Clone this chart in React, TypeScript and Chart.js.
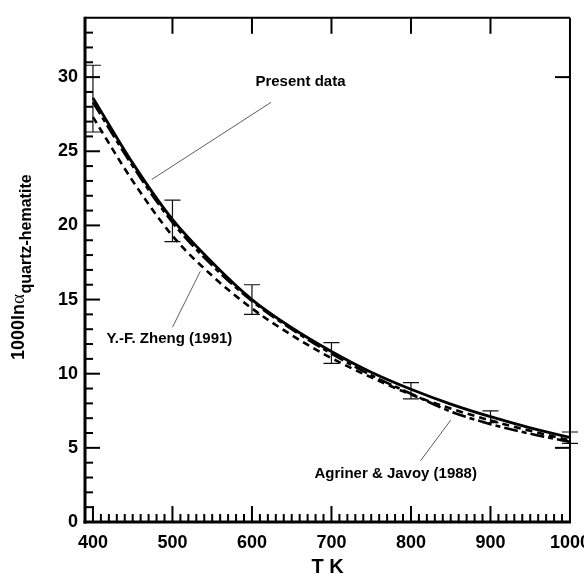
import React, { useEffect, useRef } from "react";
import { Chart, registerables } from "chart.js";

Chart.register(...registerables);

// ---- data ----
const temperatures = [400, 450, 500, 550, 600, 650, 700, 750, 800, 850, 900, 950, 1000];
const presentData = [28.6, 24.2, 20.4, 17.5, 15.0, 13.1, 11.5, 10.1, 8.95, 7.95, 7.1, 6.35, 5.7];
const zheng1991 = [27.3, 23.0, 19.3, 16.6, 14.4, 12.6, 11.05, 9.75, 8.6, 7.65, 6.85, 6.15, 5.5];
const agriner1988 = [28.3, 24.0, 20.2, 17.3, 14.9, 13.0, 11.35, 9.9, 8.65, 7.45, 6.6, 5.95, 5.4];

const errorT = [400, 500, 600, 700, 800, 900, 1000];
const errorLow = [26.3, 18.9, 14.0, 10.7, 8.3, 6.7, 5.3];
const errorHigh = [30.8, 21.7, 16.0, 12.1, 9.4, 7.5, 6.07];

const xTickLabels = [400, 500, 600, 700, 800, 900, 1000];
const yTickLabels = [0, 5, 10, 15, 20, 25, 30];
const topTickValues = [500, 600, 700, 800, 900];
const rightTickValues = [30, 5];

const seriesLabels = ["Present data", "Y.-F. Zheng (1991)", "Agriner & Javoy (1988)"];

const FONT = "'Liberation Sans', Arial, sans-serif";

const framePlugin = {
  id: "frame",
  afterDatasetsDraw(chart: any) {
    const { ctx, scales } = chart;
    const x = scales.x;
    const y = scales.y;
    ctx.save();
    ctx.strokeStyle = "#111";
    ctx.lineWidth = 1.2;
    errorT.forEach((t, i) => {
      const px = x.getPixelForValue(t);
      const p1 = y.getPixelForValue(errorLow[i]);
      const p2 = y.getPixelForValue(errorHigh[i]);
      ctx.beginPath();
      ctx.moveTo(px, p1);
      ctx.lineTo(px, p2);
      ctx.moveTo(px - 8, p1);
      ctx.lineTo(px + 8, p1);
      ctx.moveTo(px - 8, p2);
      ctx.lineTo(px + 8, p2);
      ctx.stroke();
    });
    ctx.restore();
  },
  afterDraw(chart: any) {
    const { ctx, chartArea, scales } = chart;
    const { left, right, top, bottom } = chartArea;
    const x = scales.x;
    const y = scales.y;
    const line = (x1: number, y1: number, x2: number, y2: number) => {
      ctx.beginPath();
      ctx.moveTo(x1, y1);
      ctx.lineTo(x2, y2);
      ctx.stroke();
    };
    ctx.save();
    ctx.strokeStyle = "#000";
    // frame
    ctx.lineWidth = 2;
    line(left, top, right, top);
    line(right, top, right, bottom);
    ctx.lineWidth = 3;
    line(left, top - 1, left, bottom + 1.5);
    line(left - 1.5, bottom, right + 1, bottom);

    // left ticks
    ctx.lineWidth = 2;
    for (let v = 0; v <= 33; v++) {
      const py = y.getPixelForValue(v);
      line(left, py, left + (v % 5 === 0 ? 15 : 8), py);
    }
    // bottom ticks
    for (let t = 400; t < 1000; t += 10) {
      const px = x.getPixelForValue(t);
      line(px, bottom, px, bottom - (t % 100 === 0 ? 16 : 8));
    }
    // top ticks
    topTickValues.forEach((t) => {
      const px = x.getPixelForValue(t);
      line(px, top, px, top + 16);
    });
    // right ticks
    rightTickValues.forEach((v) => {
      const py = y.getPixelForValue(v);
      line(right, py, right - 15, py);
    });

    // annotations
    ctx.fillStyle = "#000";
    ctx.font = `bold 15px ${FONT}`;
    ctx.textBaseline = "middle";
    ctx.lineWidth = 0.8;
    ctx.strokeStyle = "#333";

    ctx.textAlign = "center";
    ctx.fillText(seriesLabels[0], x.getPixelForValue(661), y.getPixelForValue(29.7));
    line(x.getPixelForValue(624), y.getPixelForValue(28.3), x.getPixelForValue(474), y.getPixelForValue(23.1));

    ctx.textAlign = "left";
    ctx.fillText(seriesLabels[1], x.getPixelForValue(417), y.getPixelForValue(12.33));
    line(x.getPixelForValue(500), y.getPixelForValue(13.13), x.getPixelForValue(535), y.getPixelForValue(16.9));

    ctx.textAlign = "right";
    ctx.fillText(seriesLabels[2], x.getPixelForValue(883), y.getPixelForValue(3.27));
    line(x.getPixelForValue(812), y.getPixelForValue(4.13), x.getPixelForValue(850), y.getPixelForValue(6.87));

    // x title
    ctx.textAlign = "center";
    ctx.font = `bold 20px ${FONT}`;
    ctx.fillText("T K", (left + right) / 2, 567);

    // y title (rotated, with subscript)
    ctx.translate(24, 360);
    ctx.rotate(-Math.PI / 2);
    ctx.textAlign = "left";
    ctx.textBaseline = "alphabetic";
    ctx.font = `bold 18px ${FONT}`;
    const main = "1000ln";
    ctx.fillText(main, 0, 0);
    let cx = ctx.measureText(main).width;
    ctx.font = `19px 'Liberation Serif', serif`;
    ctx.fillText("α", cx, 0);
    cx += ctx.measureText("α").width + 0.5;
    ctx.font = `bold 16px ${FONT}`;
    ctx.fillText("quartz-hematite", cx, 7);
    ctx.restore();
  },
};

export default function App() {
  const canvasRef = useRef<HTMLCanvasElement | null>(null);

  useEffect(() => {
    if (!canvasRef.current) return;
    const mk = (vals: number[]) => temperatures.map((t, i) => ({ x: t, y: vals[i] }));
    const chart = new Chart(canvasRef.current, {
      type: "line",
      data: {
        datasets: [
          {
            label: seriesLabels[2],
            data: mk(agriner1988),
            borderColor: "#000",
            borderWidth: 2.6,
            borderDash: [14, 4, 5, 4],
            pointRadius: 0,
            cubicInterpolationMode: "monotone",
            fill: false,
          },
          {
            label: seriesLabels[1],
            data: mk(zheng1991),
            borderColor: "#000",
            borderWidth: 2.6,
            borderDash: [7, 5],
            pointRadius: 0,
            cubicInterpolationMode: "monotone",
            fill: false,
          },
          {
            label: seriesLabels[0],
            data: mk(presentData),
            borderColor: "#000",
            borderWidth: 2.8,
            pointRadius: 0,
            cubicInterpolationMode: "monotone",
            fill: false,
          },
        ],
      },
      options: {
        animation: false,
        responsive: false,
        devicePixelRatio: 1,
        layout: { padding: { top: 13, right: 26, left: 0, bottom: 0 } },
        plugins: { legend: { display: false }, tooltip: { enabled: false } },
        scales: {
          x: {
            type: "linear",
            min: 390,
            max: 1000,
            grid: { display: false, drawTicks: false },
            border: { display: false },
            afterBuildTicks: (scale: any) => {
              scale.ticks = xTickLabels.map((v) => ({ value: v }));
            },
            afterFit: (scale: any) => {
              scale.height = 55;
            },
            ticks: {
              color: "#000",
              padding: 10,
              maxRotation: 0,
              font: { family: FONT, size: 18, weight: "bold" },
              callback: (v: any) => String(v),
            },
          },
          y: {
            type: "linear",
            min: 0,
            max: 34,
            grid: { display: false, drawTicks: false },
            border: { display: false },
            afterBuildTicks: (scale: any) => {
              scale.ticks = yTickLabels.map((v) => ({ value: v }));
            },
            afterFit: (scale: any) => {
              scale.width = 85;
            },
            ticks: {
              color: "#000",
              padding: 7,
              font: { family: FONT, size: 18, weight: "bold" },
              callback: (v: any) => String(v),
            },
          },
        },
      },
      plugins: [framePlugin],
    } as any);
    return () => chart.destroy();
  }, []);

  return (
    <div style={{ position: "fixed", left: 0, top: 0, width: 600, height: 577, background: "#fff" }}>
      <canvas ref={canvasRef} width={600} height={577} />
    </div>
  );
}
